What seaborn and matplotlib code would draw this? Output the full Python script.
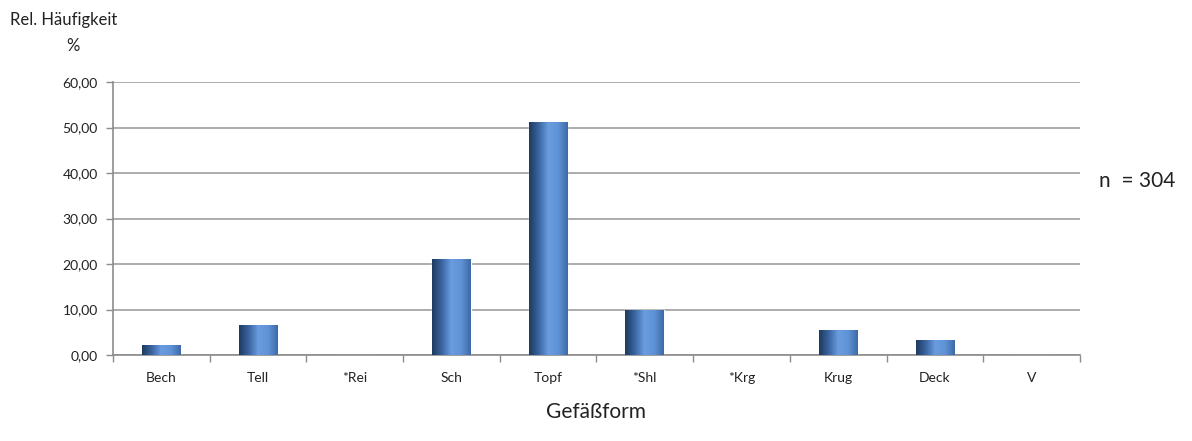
import numpy as np
import pandas as pd
import matplotlib
matplotlib.use("Agg")
import matplotlib.pyplot as plt
from matplotlib.colors import LinearSegmentedColormap
from matplotlib.ticker import FixedLocator, FuncFormatter
import seaborn as sns

formen = ["Bech", "Tell", "*Rei", "Sch", "Topf", "*Shl", "*Krg", "Krug", "Deck", "V"]
anteil = [2.30, 6.58, 0.0, 21.05, 51.32, 9.87, 0.0, 5.59, 3.29, 0.0]
n_gesamt = 304

df = pd.DataFrame({"Form": formen, "Anteil": anteil})

sns.set_theme(style="white")
plt.rcParams["font.family"] = ["Lato", "DejaVu Sans"]

fig = plt.figure(figsize=(11.92, 4.41), dpi=100)
ax = fig.add_axes([0.0948, 0.195, 0.8112, 0.619])

sns.barplot(data=df, x="Form", y="Anteil", color="#4f81bd", width=0.4,
            saturation=1, ax=ax)

# Zylinder-Look wie in Excel: Verlauf ueber jede Saeule legen
cmap = LinearSegmentedColormap.from_list(
    "zyl", ["#1e3a5f", "#3a64a0", "#6a9de0", "#5f92d6", "#3d6aa6"])
grad = np.linspace(0, 1, 256).reshape(1, -1)
for p in ax.patches:
    h = p.get_height()
    if h <= 0:
        continue
    x0 = p.get_x()
    im = ax.imshow(grad, cmap=cmap, aspect="auto", zorder=3,
                   extent=[x0, x0 + p.get_width(), 0, h])
    im.set_clip_path(p)

ax.set_xlim(-0.5, len(formen) - 0.5)
ax.set_ylim(0, 60)
ax.set_yticks(np.arange(0, 61, 10))
ax.yaxis.set_major_formatter(FuncFormatter(lambda v, _: f"{v:.2f}".replace(".", ",")))
ax.grid(axis="y", color="#a6a6a6", linewidth=1.3, zorder=0)
ax.set_axisbelow(True)

# Striche an den Kategoriegrenzen
ax.xaxis.set_minor_locator(FixedLocator(np.arange(-0.5, len(formen), 1)))
ax.tick_params(axis="x", which="major", length=0, pad=12, labelsize=10,
               labelcolor="#222222")
ax.tick_params(axis="x", which="minor", length=5, width=1, color="#8c8c8c",
               direction="out", bottom=True)
ax.tick_params(axis="y", length=5, width=1, color="#8c8c8c", direction="out",
               left=True, labelsize=10, labelcolor="#222222", pad=6)

for s in ["top", "right"]:
    ax.spines[s].set_visible(False)
for s in ["left", "bottom"]:
    ax.spines[s].set_color("#8c8c8c")
    ax.spines[s].set_linewidth(1.2)

ax.set_xlabel("Gefäßform", fontsize=15, color="#222222", labelpad=13)
ax.set_ylabel("")

fig.text(0.008, 0.955, "Rel. Häufigkeit", fontsize=12, color="#222222",
         ha="left", va="center")
fig.text(0.061, 0.895, "%", fontsize=12, color="#222222", ha="center",
         va="center")
fig.text(0.922, 0.59, f"n  = {n_gesamt}", fontsize=15, color="#222222",
         ha="left", va="center")

fig.savefig("out.png", dpi=100)
